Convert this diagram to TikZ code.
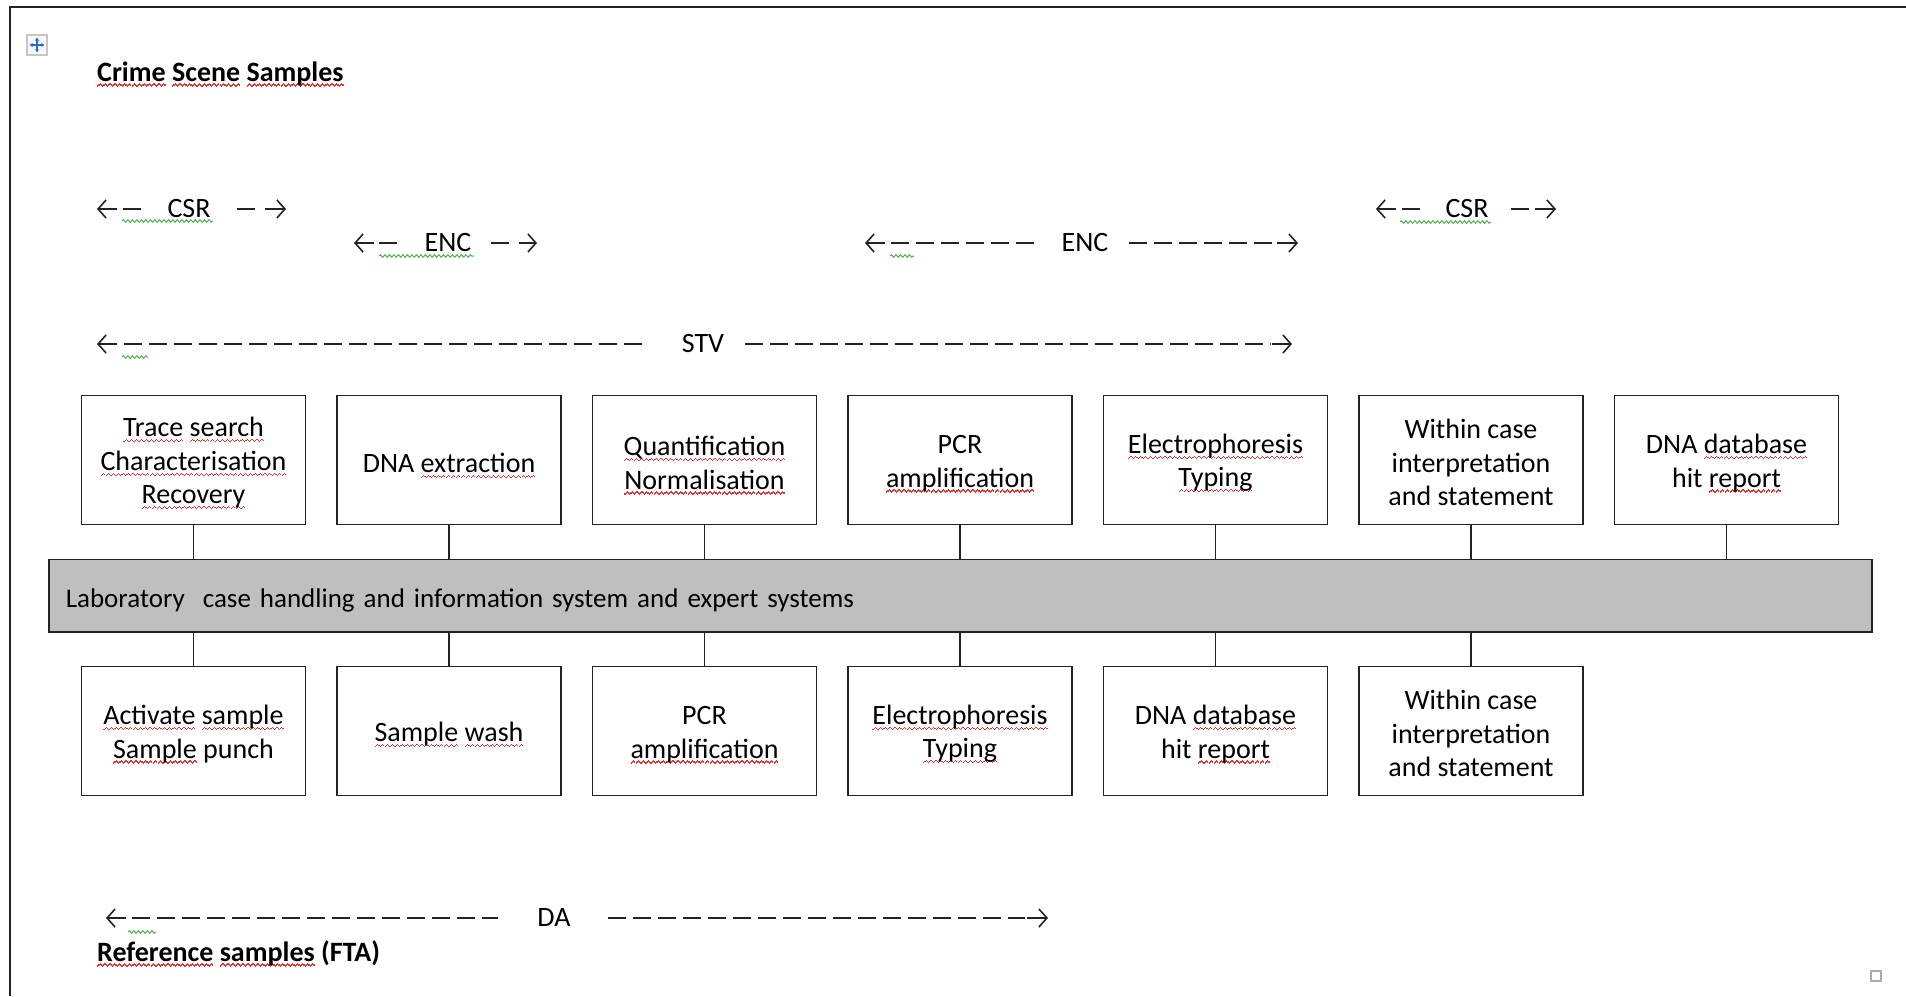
\documentclass[tikz,border=0pt]{standalone}
\usepackage{fontspec}
\setmainfont{Carlito}
\usetikzlibrary{arrows.meta,decorations.pathmorphing,calc}
\definecolor{sqred}{RGB}{228,50,50}
\definecolor{sqgreen}{RGB}{80,175,80}
\definecolor{barfill}{RGB}{191,191,191}
\definecolor{ink}{RGB}{35,35,35}
\definecolor{iconblue}{RGB}{45,105,205}
\newcommand\rwavecell{\hbox{\rule[-5.6pt]{1.2pt}{1.3pt}\rule[-4.6pt]{1.2pt}{1.3pt}\rule[-3.6pt]{1.2pt}{1.3pt}\rule[-4.6pt]{1.2pt}{1.3pt}}}
\newcommand\rsq[1]{\setbox0=\hbox{#1}\rlap{\smash{\textcolor{sqred}{\hbox to\wd0{\xleaders\rwavecell\hfil}}}}\box0\relax}
\newcommand\tp{\rule{0pt}{25pt}}
\tikzset{
  stepbox/.style={draw=ink, line width=1.8pt, minimum width=224pt, minimum height=129pt,
    align=center, inner sep=0pt, font=\fontsize{28}{33.5}\selectfont, text=black},
  conn/.style={draw=ink, line width=1.8pt},
  dashline/.style={draw=ink, line width=2.2pt, dash pattern=on 18pt off 7pt},
  glyph/.style={draw=ink, line width=1.6pt, -{Straight Barb[length=8pt,width=18pt]}},
  lbl/.style={font=\fontsize{28}{33.5}\selectfont, inner sep=0pt, text=black},
  titlestyle/.style={font=\fontsize{28}{33.5}\selectfont\bfseries, inner sep=0pt, text=black},
  gsq/.style={draw=sqgreen, line width=1pt, decorate, decoration={snake, amplitude=1.3pt, segment length=4.5pt}},
  movearrow/.style={iconblue, line width=1.6pt, {Latex[length=3pt,width=4.5pt]}-{Latex[length=3pt,width=4.5pt]}},
}
\begin{document}
\begin{tikzpicture}[x=1pt,y=-1pt]
\useasboundingbox (0,0) rectangle (1906,996);
% frame
\draw[ink, line width=2pt] (10,996) -- (10,7) -- (1906,7);
% move icon
\node[draw=gray!45, fill=gray!6, line width=1.2pt, minimum size=20pt, inner sep=0pt] (mv) at (37,45) {};
\draw[movearrow] ($(mv.center)+(-7.5,0)$) -- ($(mv.center)+(7.5,0)$);
\draw[movearrow] ($(mv.center)+(0,-7.5)$) -- ($(mv.center)+(0,7.5)$);
% corner square
\node[draw=gray!65, line width=1.5pt, minimum size=10pt, inner sep=0pt] (corner) at (1876,976) {};

% titles
\node[titlestyle, anchor=base west] (crime) at (97,81) {\rsq{Crime} \rsq{Scene} \rsq{Samples}};
\node[titlestyle, anchor=base west] (refs) at (97,961) {\rsq{Reference} \rsq{samples} (FTA)};

% ---- arrow rows ----
% CSR left
\node[lbl] (csrA) at (189,209) {CSR};
\coordinate (csrAl) at (97,209);  \coordinate (csrAr) at (286,209);
\draw[glyph] ($(csrAl)+(20,0)$) -- (csrAl);
\draw[dashline] ($(csrAl)+(26,0)$) -- ($(csrA.west)+(-22,0)$);
\draw[dashline] ($(csrA.east)+(26,0)$) -- ($(csrAr)+(-25,0)$);
\draw[glyph] ($(csrAr)+(-21,0)$) -- (csrAr);
\draw[gsq] (122,221) -- (213,221);
% ENC left
\node[lbl] (encA) at (448,243) {ENC};
\coordinate (encAl) at (354,243);  \coordinate (encAr) at (537,243);
\draw[glyph] ($(encAl)+(20,0)$) -- (encAl);
\draw[dashline] ($(encAl)+(25,0)$) -- ($(encA.west)+(-23,0)$);
\draw[dashline] ($(encA.east)+(19,0)$) -- ($(encAr)+(-22,0)$);
\draw[glyph] ($(encAr)+(-18,0)$) -- (encAr);
\draw[gsq] (379,256) -- (474,256);
% ENC middle
\node[lbl] (encB) at (1085,243) {ENC};
\coordinate (encBl) at (865,243);  \coordinate (encBr) at (1298,243);
\draw[glyph] ($(encBl)+(20,0)$) -- (encBl);
\draw[dashline] ($(encBl)+(26,0)$) -- ($(encB.west)+(-25,0)$);
\draw[dashline] ($(encB.east)+(20,0)$) -- ($(encBr)+(-21,0)$);
\draw[glyph] ($(encBr)+(-21,0)$) -- (encBr);
\draw[gsq] (890,256) -- (914,256);
% CSR right
\node[lbl] (csrB) at (1467,209) {CSR};
\coordinate (csrBl) at (1376,209);  \coordinate (csrBr) at (1556,209);
\draw[glyph] ($(csrBl)+(20,0)$) -- (csrBl);
\draw[dashline] ($(csrBl)+(26,0)$) -- ($(csrB.west)+(-22,0)$);
\draw[dashline] ($(csrB.east)+(22,0)$) -- ($(csrBr)+(-24,0)$);
\draw[glyph] ($(csrBr)+(-21,0)$) -- (csrBr);
\draw[gsq] (1400,222) -- (1491,222);
% STV
\node[lbl] (stv) at (703,344) {STV};
\coordinate (stvl) at (97,344);  \coordinate (stvr) at (1292,344);
\draw[glyph] ($(stvl)+(20,0)$) -- (stvl);
\draw[dashline] ($(stvl)+(27,0)$) -- ($(stv.west)+(-38,0)$);
\draw[dashline] ($(stv.east)+(21,0)$) -- ($(stvr)+(-21,0)$);
\draw[glyph] ($(stvr)+(-20,0)$) -- (stvr);
\draw[gsq] (122,357) -- (148,357);
% DA
\node[lbl] (da) at (554,918) {DA};
\coordinate (dal) at (106,918);  \coordinate (dar) at (1048,918);
\draw[glyph] ($(dal)+(20,0)$) -- (dal);
\draw[dashline] ($(dal)+(26,0)$) -- ($(da.west)+(-39,0)$);
\draw[dashline] ($(da.east)+(37,0)$) -- ($(dar)+(-23,0)$);
\draw[glyph] ($(dar)+(-21,0)$) -- (dar);
\draw[gsq] (128,932) -- (156,932);

% ---- central bar ----
\node[draw=ink, line width=1.8pt, fill=barfill, minimum width=1823pt, minimum height=72.5pt,
      inner xsep=17pt, inner ysep=0pt, text width=1789pt, align=left,
      font=\fontsize{27}{32}\selectfont] (bar) at (960.3,595.8)
  {\raisebox{-5pt}[\height][\depth]{Laboratory\ \ case handling and information system and expert systems}};

% ---- top boxes ----
\node[stepbox] (t1) at (193.5,460) {\tp\rsq{Trace} \rsq{search}\\\rsq{Characterisation}\\\rsq{Recovery}};
\node[stepbox] (t2) at (449,460) {\tp DNA \rsq{extraction}};
\node[stepbox] (t3) at (704.5,460) {\tp\rsq{Quantification}\\\rsq{Normalisation}};
\node[stepbox] (t4) at (960,460) {\tp PCR\\\rsq{amplification}};
\node[stepbox] (t5) at (1215.5,460) {\tp\rsq{Electrophoresis}\\\rsq{Typing}};
\node[stepbox] (t6) at (1471,460) {\tp Within case\\interpretation\\and statement};
\node[stepbox] (t7) at (1726.5,460) {\tp DNA \rsq{database}\\hit \rsq{report}};

% ---- bottom boxes ----
\node[stepbox] (b1) at (193.5,731) {\tp\rsq{Activate} \rsq{sample}\\\rsq{Sample} punch};
\node[stepbox] (b2) at (449,731) {\tp\rsq{Sample} \rsq{wash}};
\node[stepbox] (b3) at (704.5,731) {\tp PCR\\\rsq{amplification}};
\node[stepbox] (b4) at (960,731) {\tp\rsq{Electrophoresis}\\\rsq{Typing}};
\node[stepbox] (b5) at (1215.5,731) {\tp DNA \rsq{database}\\hit \rsq{report}};
\node[stepbox] (b6) at (1471,731) {\tp Within case\\interpretation\\and statement};

% ---- connectors ----
\foreach \i in {1,...,7} \draw[conn] (t\i.south) -- (t\i.south |- bar.north);
\foreach \i in {1,...,6} \draw[conn] (b\i.north) -- (b\i.north |- bar.south);
\end{tikzpicture}
\end{document}
